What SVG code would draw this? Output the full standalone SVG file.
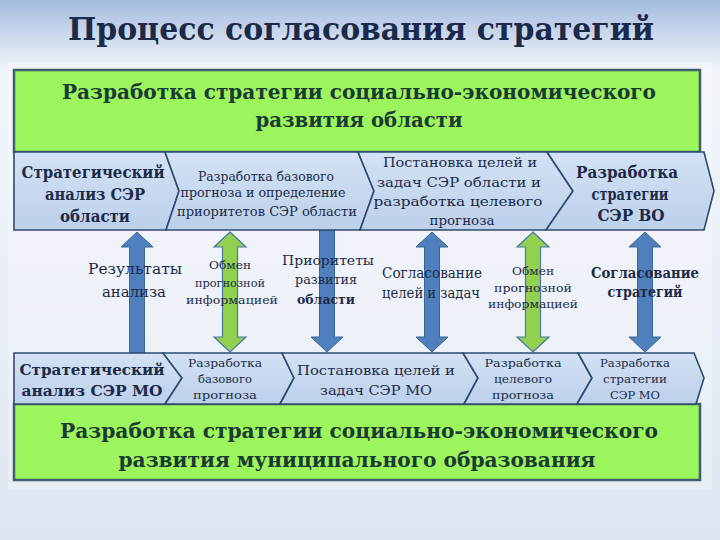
<svg xmlns="http://www.w3.org/2000/svg" width="720" height="540" viewBox="0 0 720 540">
<defs>
<linearGradient id="bg" x1="0" y1="0" x2="0" y2="1">
<stop offset="0" stop-color="#a4bcdf"/>
<stop offset="0.13" stop-color="#f1f5fa"/>
<stop offset="0.5" stop-color="#eaeff7"/>
<stop offset="1" stop-color="#dde5f1"/>
</linearGradient>
<linearGradient id="chev" x1="0" y1="0" x2="0" y2="1">
<stop offset="0" stop-color="#d3e2f4"/>
<stop offset="1" stop-color="#bcd0ea"/>
</linearGradient>
<style>
text{font-family:"DejaVu Serif","Liberation Serif",serif;fill:#1c2a48;text-anchor:middle}
.b{font-weight:bold}
.g{fill:#1b3a34}
.box{fill:#9cf55c;stroke:#3e5f6c;stroke-width:2.5}
.ch{fill:url(#chev);stroke:#2c4b72;stroke-width:1.6;stroke-linejoin:miter}
.ab{fill:#4f80bd;stroke:#3b6698;stroke-width:1}
.ag{fill:#92d050;stroke:#4a76a8;stroke-width:1.2}
</style>
</defs>
<rect x="0" y="0" width="720" height="540" fill="url(#bg)"/>
<rect x="8" y="62" width="704" height="428" fill="#ffffff" opacity="0.25"/>

<g id="title"><text class="b" x="361" y="40" font-size="31" textLength="586" lengthAdjust="spacingAndGlyphs" style="fill:#1b2a48">Процесс согласования стратегий</text></g>

<g id="top-box">
<rect class="box" x="14" y="70" width="686" height="82"/>
<text class="b g" x="359" y="99" font-size="21" textLength="594" lengthAdjust="spacingAndGlyphs">Разработка стратегии социально-экономического</text>
<text class="b g" x="359" y="127" font-size="21" textLength="207" lengthAdjust="spacingAndGlyphs">развития области</text>
</g>

<g id="connectors">
<path class="ab" d="M137,232 L153,247 L144.5,247 L144.5,353 L129.5,353 L129.5,247 L121,247 Z"/>
<path class="ag" d="M230,232 L246,247 L237.5,247 L237.5,337 L246,337 L230,352 L214,337 L222.5,337 L222.5,247 L214,247 Z"/>
<path class="ab" d="M319.5,230 L334.5,230 L334.5,337 L343,337 L327,352 L311,337 L319.5,337 Z"/>
<path class="ab" d="M432,232 L448,247 L439.5,247 L439.5,337 L448,337 L432,352 L416,337 L424.5,337 L424.5,247 L416,247 Z"/>
<path class="ag" d="M533,232 L549,247 L540.5,247 L540.5,337 L549,337 L533,352 L517,337 L525.5,337 L525.5,247 L517,247 Z"/>
<path class="ab" d="M645,232 L661,247 L652.5,247 L652.5,337 L661,337 L645,352 L629,337 L637.5,337 L637.5,247 L629,247 Z"/>
</g>

<g id="top-1">
<path class="ch" d="M14,152 L165,152 L179,191 L166,230 L14,230 Z"/>
<text class="b" x="93" y="178" font-size="16" textLength="143" lengthAdjust="spacingAndGlyphs">Стратегический</text>
<text class="b" x="95" y="200" font-size="16" textLength="100" lengthAdjust="spacingAndGlyphs">анализ СЭР</text>
<text class="b" x="95" y="222" font-size="16" textLength="70" lengthAdjust="spacingAndGlyphs">области</text>
</g>
<g id="top-2">
<path class="ch" d="M165,152 L358,152 L374,191 L360,230 L166,230 L179,191 Z"/>
<text x="266" y="181" font-size="12" textLength="136" lengthAdjust="spacingAndGlyphs">Разработка базового</text>
<text x="263" y="197" font-size="12" textLength="165" lengthAdjust="spacingAndGlyphs">прогноза и определение</text>
<text x="267" y="216" font-size="12" textLength="180" lengthAdjust="spacingAndGlyphs">приоритетов СЭР области</text>
</g>
<g id="top-3">
<path class="ch" d="M358,152 L547,152 L573,191 L546,230 L360,230 L374,191 Z"/>
<text x="460" y="167" font-size="13" textLength="154" lengthAdjust="spacingAndGlyphs">Постановка целей и</text>
<text x="459" y="187" font-size="13" textLength="164" lengthAdjust="spacingAndGlyphs">задач СЭР области и</text>
<text x="458" y="206" font-size="13" textLength="169" lengthAdjust="spacingAndGlyphs">разработка целевого</text>
<text x="462" y="225" font-size="13" textLength="65" lengthAdjust="spacingAndGlyphs">прогноза</text>
</g>
<g id="top-4">
<path class="ch" d="M547,152 L704,152 L714,191 L704,230 L546,230 L573,191 Z"/>
<text class="b" x="627" y="178" font-size="16" textLength="102" lengthAdjust="spacingAndGlyphs">Разработка</text>
<text class="b" x="630" y="200" font-size="16" textLength="77" lengthAdjust="spacingAndGlyphs">стратегии</text>
<text class="b" x="631" y="221" font-size="16" textLength="67" lengthAdjust="spacingAndGlyphs">СЭР ВО</text>
</g>

<g id="label-1">
<text x="135" y="274" font-size="15" textLength="94" lengthAdjust="spacingAndGlyphs">Результаты</text>
<text x="134" y="297" font-size="15" textLength="64" lengthAdjust="spacingAndGlyphs">анализа</text>
</g>
<g id="label-2">
<text x="230" y="269" font-size="11" textLength="42" lengthAdjust="spacingAndGlyphs">Обмен</text>
<text x="230" y="287" font-size="11" textLength="70" lengthAdjust="spacingAndGlyphs">прогнозной</text>
<text x="232" y="304" font-size="11" textLength="92" lengthAdjust="spacingAndGlyphs">информацией</text>
</g>
<g id="label-3">
<text x="328" y="265" font-size="13" textLength="92" lengthAdjust="spacingAndGlyphs">Приоритеты</text>
<text x="326" y="284" font-size="13" textLength="62" lengthAdjust="spacingAndGlyphs">развития</text>
<text class="b" x="326" y="304" font-size="13" textLength="58" lengthAdjust="spacingAndGlyphs">области</text>
</g>
<g id="label-4">
<text x="432" y="278" font-size="14" textLength="100" lengthAdjust="spacingAndGlyphs">Согласование</text>
<text x="431" y="298" font-size="14" textLength="98" lengthAdjust="spacingAndGlyphs">целей и задач</text>
</g>
<g id="label-5">
<text x="533" y="275" font-size="11" textLength="42" lengthAdjust="spacingAndGlyphs">Обмен</text>
<text x="533" y="292" font-size="11" textLength="78" lengthAdjust="spacingAndGlyphs">прогнозной</text>
<text x="533" y="308" font-size="11" textLength="90" lengthAdjust="spacingAndGlyphs">информацией</text>
</g>
<g id="label-6">
<text class="b" x="645" y="278" font-size="14" textLength="108" lengthAdjust="spacingAndGlyphs">Согласование</text>
<text class="b" x="645" y="297" font-size="14" textLength="75" lengthAdjust="spacingAndGlyphs">стратегий</text>
</g>

<g id="bottom-box">
<rect class="box" x="14" y="404" width="686" height="76"/>
<text class="b g" x="359" y="438" font-size="21" textLength="598" lengthAdjust="spacingAndGlyphs">Разработка стратегии социально-экономического</text>
<text class="b g" x="357" y="467" font-size="21" textLength="477" lengthAdjust="spacingAndGlyphs">развития муниципального образования</text>
</g>

<g id="bottom-1">
<path class="ch" d="M14,353 L163,353 L182,378 L165,404 L14,404 Z"/>
<text class="b" x="92" y="375" font-size="15" textLength="145" lengthAdjust="spacingAndGlyphs">Стратегический</text>
<text class="b" x="92" y="396" font-size="15" textLength="141" lengthAdjust="spacingAndGlyphs">анализ СЭР МО</text>
</g>
<g id="bottom-2">
<path class="ch" d="M163,353 L282,353 L294,378 L280,404 L165,404 L182,378 Z"/>
<text x="225" y="367" font-size="11.5" textLength="74" lengthAdjust="spacingAndGlyphs">Разработка</text>
<text x="225" y="383" font-size="11.5" textLength="54" lengthAdjust="spacingAndGlyphs">базового</text>
<text x="225" y="399" font-size="11.5" textLength="64" lengthAdjust="spacingAndGlyphs">прогноза</text>
</g>
<g id="bottom-3">
<path class="ch" d="M282,353 L463,353 L478,378 L464,404 L280,404 L294,378 Z"/>
<text x="376" y="375" font-size="13.5" textLength="158" lengthAdjust="spacingAndGlyphs">Постановка целей и</text>
<text x="376" y="395" font-size="13.5" textLength="112" lengthAdjust="spacingAndGlyphs">задач СЭР МО</text>
</g>
<g id="bottom-4">
<path class="ch" d="M463,353 L578,353 L592,378 L577,404 L464,404 L478,378 Z"/>
<text x="523" y="367" font-size="11.5" textLength="77" lengthAdjust="spacingAndGlyphs">Разработка</text>
<text x="523" y="383" font-size="11.5" textLength="58" lengthAdjust="spacingAndGlyphs">целевого</text>
<text x="523" y="399" font-size="11.5" textLength="62" lengthAdjust="spacingAndGlyphs">прогноза</text>
</g>
<g id="bottom-5">
<path class="ch" d="M578,353 L694,353 L704,378 L696,404 L577,404 L592,378 Z"/>
<text x="635" y="367" font-size="11.5" textLength="70" lengthAdjust="spacingAndGlyphs">Разработка</text>
<text x="635" y="383" font-size="11.5" textLength="64" lengthAdjust="spacingAndGlyphs">стратегии</text>
<text x="635" y="399" font-size="11.5" textLength="50" lengthAdjust="spacingAndGlyphs">СЭР МО</text>
</g>
</svg>
